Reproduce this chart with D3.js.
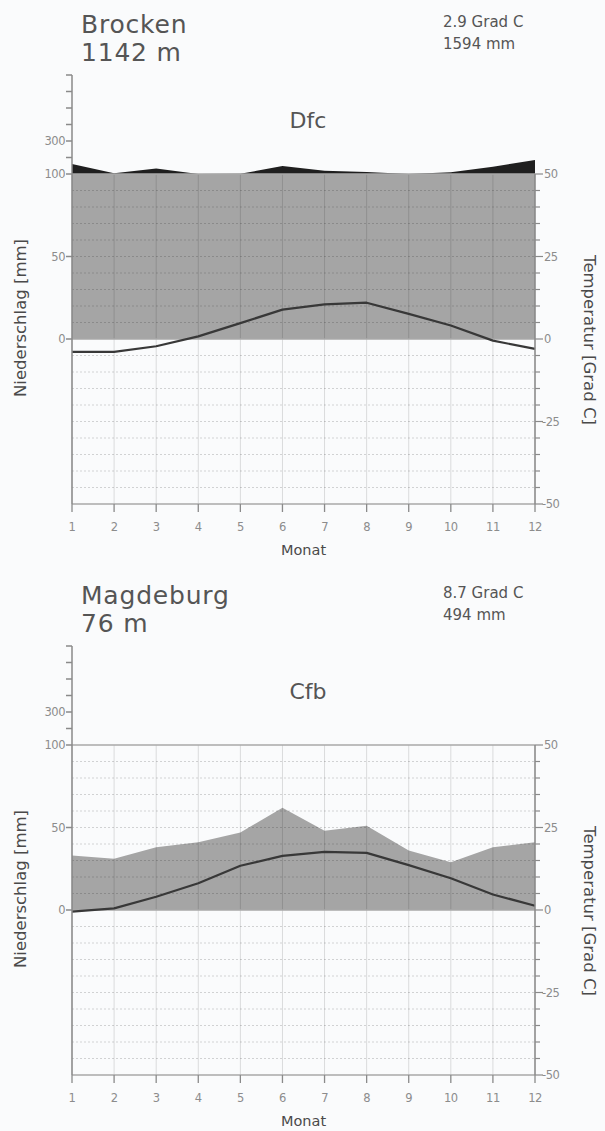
<!DOCTYPE html>
<html>
<head>
<meta charset="utf-8">
<script src="https://cdn.jsdelivr.net/npm/d3@7"></script>
<style>
  html, body { margin: 0; padding: 0; background: #fafbfc; }
  svg { display: block; }
  text { font-family: "DejaVu Sans", sans-serif; }
</style>
</head>
<body>
<svg id="chart" width="605" height="1131"></svg>
<script>
// Climate diagrams (Walter–Lieth style) for two stations in the Harz region.
const months = [1, 2, 3, 4, 5, 6, 7, 8, 9, 10, 11, 12];

const stationNames = ["Brocken", "Magdeburg"];
const elevations = ["1142 m", "76 m"];
const meanTempLabels = ["2.9 Grad C", "8.7 Grad C"];
const totalPrecipLabels = ["1594 mm", "494 mm"];
const climateClasses = ["Dfc", "Cfb"];

// Monthly mean temperature [°C]
const brockenTemp = [-3.9, -3.9, -2.2, 0.8, 4.8, 8.9, 10.5, 11.0, 7.6, 4.1, -0.5, -3.0];
const magdeburgTemp = [-0.5, 0.5, 4.0, 8.1, 13.4, 16.4, 17.6, 17.3, 13.6, 9.6, 4.7, 1.3];

// Monthly precipitation [mm]
const brockenPrec = [160, 105, 134, 100, 101, 148, 120, 112, 100, 110, 144, 185];
const magdeburgPrec = [33, 31, 38, 41, 47, 62, 48, 51, 36, 29, 38, 41];

// Axis tick values
const precTicksLower = [0, 50, 100];
const precTicksUpper = [200, 300, 400, 500, 600, 700];
const precTicksUpperLabelled = [300];
const tempTicksMajor = [-50, -25, 0, 25, 50];
const tempTicksAll = d3.range(-50, 51, 5);

const temps = [brockenTemp, magdeburgTemp];
const precs = [brockenPrec, magdeburgPrec];

const svg = d3.select("#chart");

const left = 72, right = 535;
const panelOffset = 571;

function drawPanel(i) {
  const oy = i * panelOffset;
  const g = svg.append("g").attr("transform", `translate(0,${oy})`);

  const x = d3.scaleLinear().domain([1, 12]).range([left, right]);
  const yT = d3.scaleLinear().domain([-50, 50]).range([504, 174]);
  // precipitation: 10 °C ≙ 20 mm up to 100 mm, above that 10 °C ≙ 200 mm
  const yP = d3.scaleLinear().domain([0, 100, 700]).range([yT(0), yT(50), yT(50) - 6 * (yT(0) - yT(5))]);

  const temp = temps[i], prec = precs[i];
  const pts = months.map((m, k) => ({ m, t: temp[k], p: prec[k] }));

  // precipitation up to 100 mm
  g.append("path")
    .datum(pts)
    .attr("fill", "#a5a5a5")
    .attr("d", d3.area()
      .x(d => x(d.m))
      .y0(yP(0))
      .y1(d => yP(Math.min(d.p, 100))));

  // precipitation above 100 mm (reduced scale)
  g.append("path")
    .datum(pts)
    .attr("fill", "#1f1f1f")
    .attr("d", d3.area()
      .x(d => x(d.m))
      .y0(yP(100))
      .y1(d => yP(Math.max(d.p, 100))));

  // grid: vertical month lines
  g.append("g").selectAll("line")
    .data(months)
    .join("line")
    .attr("x1", d => x(d)).attr("x2", d => x(d))
    .attr("y1", yT(50)).attr("y2", yT(-50))
    .attr("stroke", "rgba(0,0,0,0.13)")
    .attr("stroke-width", 1);

  // grid: dotted horizontal lines every 5 °C
  g.append("g").selectAll("line")
    .data(tempTicksAll.filter(v => v !== 0 && Math.abs(v) !== 50))
    .join("line")
    .attr("x1", left).attr("x2", right)
    .attr("y1", d => yT(d)).attr("y2", d => yT(d))
    .attr("stroke", "rgba(0,0,0,0.16)")
    .attr("stroke-dasharray", "2,2")
    .attr("stroke-width", 1);

  // solid reference lines at 50, 0, -50 °C
  g.append("g").selectAll("line")
    .data([50, 0, -50])
    .join("line")
    .attr("x1", left).attr("x2", right)
    .attr("y1", d => yT(d)).attr("y2", d => yT(d))
    .attr("stroke", "#a8a8a8")
    .attr("stroke-width", 1.3);

  // temperature curve
  g.append("path")
    .datum(pts)
    .attr("fill", "none")
    .attr("stroke", "#383838")
    .attr("stroke-width", 2.2)
    .attr("stroke-linejoin", "round")
    .attr("d", d3.line().x(d => x(d.m)).y(d => yT(d.t)));

  const axisColor = "#8a8a8a";
  const labelColor = "#8c8c8c";

  // left axis (precipitation)
  g.append("line")
    .attr("x1", left).attr("x2", left)
    .attr("y1", yP(700)).attr("y2", yT(-50))
    .attr("stroke", axisColor).attr("stroke-width", 1.5);

  g.append("g").selectAll("line")
    .data(precTicksLower.concat(precTicksUpper))
    .join("line")
    .attr("x1", left - 6).attr("x2", left)
    .attr("y1", d => yP(d)).attr("y2", d => yP(d))
    .attr("stroke", axisColor).attr("stroke-width", 1.5);

  g.append("g").selectAll("text")
    .data(precTicksLower.concat(precTicksUpperLabelled))
    .join("text")
    .attr("x", left - 7)
    .attr("y", d => yP(d))
    .attr("dy", "0.35em")
    .attr("text-anchor", "end")
    .attr("font-size", 11.5)
    .attr("fill", labelColor)
    .attr("letter-spacing", -0.5)
    .text(d => d);

  // right axis (temperature)
  g.append("line")
    .attr("x1", right).attr("x2", right)
    .attr("y1", yT(50)).attr("y2", yT(-50))
    .attr("stroke", axisColor).attr("stroke-width", 1.5);

  g.append("g").selectAll("line")
    .data(tempTicksAll)
    .join("line")
    .attr("x1", right).attr("x2", d => right + (tempTicksMajor.includes(d) ? 8 : 5))
    .attr("y1", d => yT(d)).attr("y2", d => yT(d))
    .attr("stroke", axisColor).attr("stroke-width", 1.2);

  g.append("g").selectAll("text")
    .data(tempTicksMajor)
    .join("text")
    .attr("x", d => right + (d < 0 ? 7 : 9))
    .attr("y", d => yT(d))
    .attr("dy", "0.35em")
    .attr("font-size", 11.5)
    .attr("fill", labelColor)
    .attr("letter-spacing", -0.5)
    .text(d => d);

  // bottom axis (months)
  g.append("g").selectAll("line")
    .data(months)
    .join("line")
    .attr("x1", d => x(d)).attr("x2", d => x(d))
    .attr("y1", yT(-50)).attr("y2", yT(-50) + 8)
    .attr("stroke", axisColor).attr("stroke-width", 1.3);

  g.append("g").selectAll("text")
    .data(months)
    .join("text")
    .attr("x", d => x(d))
    .attr("y", yT(-50) + 23)
    .attr("dy", "0.35em")
    .attr("text-anchor", "middle")
    .attr("font-size", 11.5)
    .attr("fill", labelColor)
    .attr("letter-spacing", -0.5)
    .text(d => d);

  // axis titles
  g.append("text")
    .attr("x", (left + right) / 2)
    .attr("y", yT(-50) + 46)
    .attr("dy", "0.35em")
    .attr("text-anchor", "middle")
    .attr("font-size", 14.5)
    .attr("fill", "#4a4a4a")
    .text("Monat");

  g.append("text")
    .attr("transform", `translate(20,318) rotate(-90)`)
    .attr("dy", "0.35em")
    .attr("text-anchor", "middle")
    .attr("font-size", 16.5)
    .attr("fill", "#4a4a4a")
    .text("Niederschlag [mm]");

  g.append("text")
    .attr("transform", `translate(590,340) rotate(90)`)
    .attr("dy", "0.35em")
    .attr("text-anchor", "middle")
    .attr("font-size", 16.5)
    .attr("fill", "#4a4a4a")
    .text("Temperatur [Grad C]");

  // station header
  g.append("text")
    .attr("x", 81).attr("y", 33)
    .attr("font-size", 25)
    .attr("fill", "#555")
    .attr("letter-spacing", 0.8)
    .text(stationNames[i]);

  g.append("text")
    .attr("x", 81).attr("y", 61)
    .attr("font-size", 25)
    .attr("fill", "#555")
    .attr("letter-spacing", 0.8)
    .text(elevations[i]);

  g.append("text")
    .attr("x", 443).attr("y", 27)
    .attr("font-size", 15)
    .attr("fill", "#555")
    .text(meanTempLabels[i]);

  g.append("text")
    .attr("x", 443).attr("y", 49)
    .attr("font-size", 15)
    .attr("fill", "#555")
    .text(totalPrecipLabels[i]);

  g.append("text")
    .attr("x", 308).attr("y", 128)
    .attr("text-anchor", "middle")
    .attr("font-size", 22)
    .attr("fill", "#555")
    .text(climateClasses[i]);
}

stationNames.forEach((_, i) => drawPanel(i));
</script>
</body>
</html>
